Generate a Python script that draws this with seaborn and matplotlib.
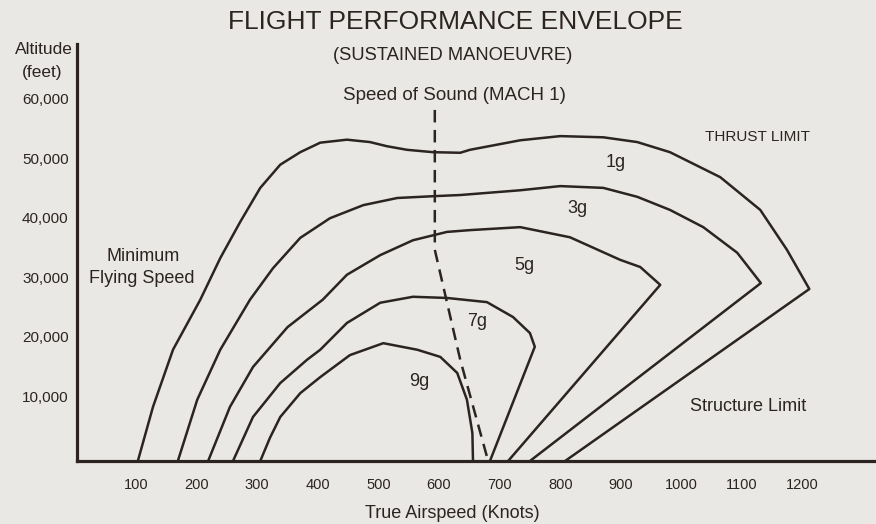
import matplotlib
matplotlib.use("Agg")
import pandas as pd
import seaborn as sns
import matplotlib.pyplot as plt
from matplotlib.transforms import ScaledTranslation

# values (knots, feet)
g1_speed = [103, 128, 161, 206, 239, 272, 305, 338, 371, 404, 448, 486, 514, 547, 590, 635, 651, 734, 800, 871, 927, 981, 1064, 1130, 1174, 1211, 808]
g1_alt = [0, 9100, 18700, 27100, 34100, 40200, 45900, 49800, 51900, 53500, 54000, 53600, 52900, 52300, 51900, 51800, 52300, 53900, 54600, 54400, 53600, 51900, 47700, 42200, 35500, 28900, 0]

g3_speed = [169, 201, 239, 288, 326, 371, 420, 475, 531, 590, 635, 734, 800, 871, 927, 981, 1036, 1092, 1131, 750]
g3_alt = [0, 10300, 18700, 27100, 32400, 37500, 40800, 43000, 44200, 44500, 44700, 45500, 46200, 45900, 44400, 42200, 39300, 35000, 29900, 0]

g5_speed = [219, 255, 293, 350, 408, 448, 503, 557, 613, 651, 734, 816, 899, 932, 965, 714]
g5_alt = [0, 9100, 15800, 22500, 27100, 31300, 34600, 37100, 38500, 38800, 39300, 37600, 33800, 32600, 29600, 0]

g7_speed = [260, 293, 338, 382, 404, 448, 503, 557, 613, 679, 722, 750, 758, 684]
g7_alt = [0, 7400, 13100, 17000, 18700, 23200, 26600, 27600, 27400, 26700, 24200, 21500, 19200, 0]

g9_speed = [305, 321, 338, 371, 404, 453, 508, 564, 602, 630, 646, 655, 656]
g9_alt = [0, 3900, 7400, 11400, 14100, 17800, 19800, 18700, 17500, 14800, 10300, 4700, 0]

mach_speed = [593, 593, 635, 681]
mach_alt = [59000, 35500, 17000, 0]

curve_names = ["1g", "3g", "5g", "7g", "9g"]
curve_label_speed = [891, 828, 740, 663, 567]
curve_label_alt = [50100, 42500, 32800, 23400, 13300]

x_ticks = [100, 200, 300, 400, 500, 600, 700, 800, 900, 1000, 1100, 1200]
y_ticks = [10000, 20000, 30000, 40000, 50000, 60000]
y_ticklabels = ["10,000", "20,000", "30,000", "40,000", "50,000", "60,000"]

ink = "#2b2421"
paper = "#eae8e5"

sns.set_style("white")
plt.rcParams["font.family"] = ["Liberation Sans", "DejaVu Sans"]
plt.rcParams["text.color"] = ink

fig = plt.figure(figsize=(8.76, 5.24), dpi=100, facecolor=paper)
ax = fig.add_axes([77 / 876, 63 / 524, 1 - 77 / 876, (461 - 44) / 524])
ax.set_facecolor(paper)

curves = [(g1_speed, g1_alt), (g3_speed, g3_alt), (g5_speed, g5_alt),
          (g7_speed, g7_alt), (g9_speed, g9_alt)]
for (spd, alt) in curves:
    df = pd.DataFrame({"speed": spd, "alt": alt})
    sns.lineplot(data=df, x="speed", y="alt", sort=False, estimator=None,
                 color=ink, lw=1.8, ax=ax)

mach = pd.DataFrame({"speed": mach_speed, "alt": mach_alt})
sns.lineplot(data=mach, x="speed", y="alt", sort=False, estimator=None,
             color=ink, lw=1.8, ax=ax, dashes=False)
ax.lines[-1].set_dashes((5, 3))

for name, sx, sy in zip(curve_names, curve_label_speed, curve_label_alt):
    ax.text(sx, sy, name, ha="center", va="center", fontsize=13, color=ink)

ax.text(626, 61500, "Speed of Sound (MACH 1)", ha="center", va="center", fontsize=13.5)
ax.text(1125, 54450, "THRUST LIMIT", ha="center", va="center", fontsize=11)
ax.text(1110, 9100, "Structure Limit", ha="center", va="center", fontsize=13)
ax.text(111, 34300, "Minimum", ha="center", va="center", fontsize=13)
ax.text(110, 30750, "Flying Speed", ha="center", va="center", fontsize=13)

ax.set_xlim(2.6, 1321)
ax.set_ylim(0, 70080)
ax.set_xticks(x_ticks)
ax.set_xticklabels([str(v) for v in x_ticks])
ax.set_yticks(y_ticks)
ax.set_yticklabels(y_ticklabels)
ax.tick_params(axis="x", length=0, pad=12, labelsize=10.5, labelcolor=ink)
ax.tick_params(axis="y", length=0, pad=6, labelsize=11, labelcolor=ink)
for lab in ax.get_yticklabels():
    lab.set_transform(lab.get_transform() + ScaledTranslation(0, 5 / 100, fig.dpi_scale_trans))
ax.set_xlabel("")
ax.set_ylabel("")

for side in ["top", "right"]:
    ax.spines[side].set_visible(False)
for side in ["left", "bottom"]:
    ax.spines[side].set_color(ink)
    ax.spines[side].set_linewidth(2.3)

fig.text(455 / 876, 1 - 22 / 524, "FLIGHT PERFORMANCE ENVELOPE", ha="center", va="center", fontsize=19)
fig.text(453 / 876, 1 - 55 / 524, "(SUSTAINED MANOEUVRE)", ha="center", va="center", fontsize=13.2)
fig.text(44 / 876, 1 - 50 / 524, "Altitude", ha="center", va="center", fontsize=12.5)
fig.text(42 / 876, 1 - 72 / 524, "(feet)", ha="center", va="center", fontsize=12.5)
fig.text(452 / 876, 1 - 513 / 524, "True Airspeed (Knots)", ha="center", va="center", fontsize=13)

fig.savefig("out.png", dpi=100, facecolor=paper)
